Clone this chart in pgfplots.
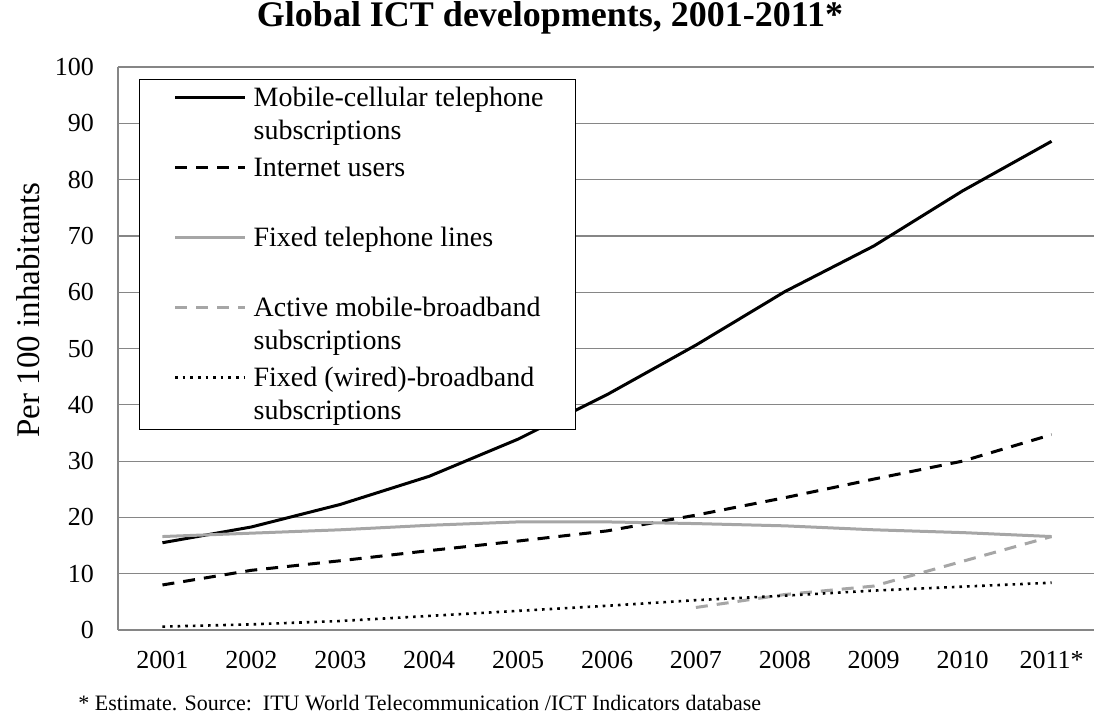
\documentclass[border=0pt]{standalone}
\usepackage{fontspec}
\setmainfont{Liberation Serif}
\usepackage{pgfplots}
\pgfplotsset{compat=1.18}
\definecolor{lgray}{RGB}{166,166,166}
\definecolor{gridc}{RGB}{134,134,134}
\newcommand{\LE}[2][35pt]{\parbox[t][#1][t]{161pt}{\raggedright\strut #2}}
\begin{document}
\begin{tikzpicture}
\useasboundingbox (-59pt,-44.5pt) rectangle (488pt,315pt);
\begin{axis}[
  at={(0pt,0pt)}, anchor=south west,
  scale only axis, width=489pt, height=281.5pt,
  xmin=-0.5, xmax=10.5, ymin=0, ymax=100,
  xtick={0,...,10},
  xticklabels={2001,2002,2003,2004,2005,2006,2007,2008,2009,2010,2011*},
  ytick={0,10,...,100},
  major tick length=0pt,
  axis x line*=bottom, axis y line*=left,
  axis line style={gridc, line width=0.6pt, -},
  ymajorgrids, grid style={gridc, line width=0.6pt},
  tick label style={font=\fontsize{13}{15}\selectfont, /pgf/number format/assume math mode=true},
  xticklabel style={yshift=-7pt},
  yticklabel style={xshift=-8.5pt},
  legend style={at={(0.0215,0.9787)}, anchor=north west, draw=black, line width=0.6pt, fill=white,
    inner xsep=0pt, inner ysep=2pt, column sep=3.5pt, row sep=0pt,
    nodes={inner sep=0pt, text depth=},
    font=\fontsize{14}{16.5}\selectfont, cells={anchor=base west}},
  legend image code/.code={\path (0pt,0pt); \draw[#1] (17pt,4.7pt) -- (52pt,4.7pt);},
]
\addplot[black, line width=1.5pt] coordinates {
(0,15.5) (1,18.3) (2,22.3) (3,27.3) (4,33.9) (5,41.8) (6,50.6) (7,60.1) (8,68.2) (9,78.0) (10,86.8)};
\addlegendentry{\LE{Mobile-cellular telephone\newline subscriptions}}
\addplot[black, line width=1.5pt, dash pattern=on 6pt off 4.5pt] coordinates {
(0,8.0) (1,10.6) (2,12.3) (3,14.1) (4,15.8) (5,17.6) (6,20.4) (7,23.5) (8,26.8) (9,30.0) (10,34.7)};
\addlegendentry{\LE{Internet users}}
\addplot[lgray, line width=1.5pt] coordinates {
(0,16.6) (1,17.2) (2,17.8) (3,18.6) (4,19.2) (5,19.2) (6,18.9) (7,18.5) (8,17.8) (9,17.3) (10,16.6)};
\addlegendentry{\LE{Fixed telephone lines}}
\addplot[lgray, line width=1.5pt, dash pattern=on 6pt off 4.5pt] coordinates {
(6,4.0) (7,6.3) (8,7.8) (9,12.2) (10,16.6)};
\addlegendentry{\LE{Active mobile-broadband\newline subscriptions}}
\addplot[black, line width=1.3pt, dash pattern=on 1.3pt off 2.5pt] coordinates {
(0,0.6) (1,1.0) (2,1.6) (3,2.5) (4,3.4) (5,4.3) (6,5.3) (7,6.1) (8,7.0) (9,7.7) (10,8.4)};
\addlegendentry{\parbox[t]{161pt}{\raggedright\strut Fixed (wired)-broadband\newline subscriptions}}
\end{axis}
\node[font=\bfseries\fontsize{18}{21}\selectfont] at (216pt,306pt) {Global ICT developments, 2001-2011*};
\node[rotate=90, font=\fontsize{16.5}{19}\selectfont] at (-45pt,160pt) {Per 100 inhabitants};
\node[anchor=west, font=\fontsize{11}{13}\selectfont, inner sep=0pt] at (-20pt,-36.5pt) {* Estimate. Source:\ \ ITU World Telecommunication /ICT Indicators database};
\end{tikzpicture}
\end{document}
